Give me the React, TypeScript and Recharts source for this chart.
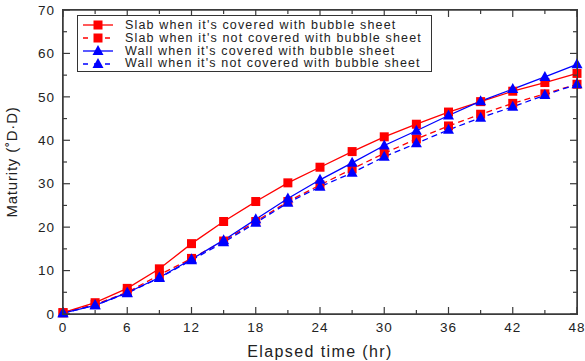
import { LineChart, Line, XAxis, YAxis, Legend } from 'recharts';

const time = [0, 3, 6, 9, 12, 15, 18, 21, 24, 27, 30, 33, 36, 39, 42, 45, 48];
const slabCovered = [0.3, 2.6, 5.9, 10.4, 16.2, 21.3, 25.9, 30.2, 33.8, 37.4, 40.8, 43.7, 46.5, 48.9, 51.3, 53.3, 55.4];
const slabUncovered = [0.3, 2.2, 5.0, 9.0, 12.8, 16.8, 21.3, 25.9, 29.7, 33.4, 37.0, 40.3, 43.3, 46.0, 48.5, 50.7, 52.9];
const wallCovered = [0.2, 2.0, 4.9, 8.4, 12.6, 17.0, 21.8, 26.6, 30.9, 34.8, 38.8, 42.2, 45.7, 49.0, 51.8, 54.6, 57.5];
const wallUncovered = [0.2, 2.0, 4.8, 8.3, 12.4, 16.5, 21.0, 25.6, 29.3, 32.5, 36.2, 39.3, 42.4, 45.2, 47.7, 50.4, 52.9];

const xTicks = [0, 3, 6, 9, 12, 15, 18, 21, 24, 27, 30, 33, 36, 39, 42, 45, 48];
const yTicks = [0, 5, 10, 15, 20, 25, 30, 35, 40, 45, 50, 55, 60, 65, 70];

// last series goes through the top/right axes (same domains) so the frame axes get drawn
const SERIES = [
  { key: 'slabCovered', name: "Slab when it's covered with bubble sheet", color: '#ff0000', dash: undefined, shape: 'square', xId: 0, yId: 0 },
  { key: 'slabUncovered', name: "Slab when it's not covered with bubble sheet", color: '#ff0000', dash: '6 4', shape: 'square', xId: 0, yId: 0 },
  { key: 'wallCovered', name: "Wall when it's covered with bubble sheet", color: '#0000ff', dash: undefined, shape: 'triangle', xId: 0, yId: 0 },
  { key: 'wallUncovered', name: "Wall when it's not covered with bubble sheet", color: '#0000ff', dash: '6 4', shape: 'triangle', xId: 'top', yId: 'r' },
];

const data = time.map((t, i) => ({
  t,
  slabCovered: slabCovered[i],
  slabUncovered: slabUncovered[i],
  wallCovered: wallCovered[i],
  wallUncovered: wallUncovered[i],
}));

const FONT = '"Liberation Sans", Arial, sans-serif';
const AXIS = '#3a3a3a';

const Marker = ({ cx, cy, shape, color }: any) => {
  if (cx == null || cy == null) return null;
  if (shape === 'square') {
    return <rect x={cx - 4.5} y={cy - 4.5} width={9} height={9} fill={color} />;
  }
  return <polygon points={`${cx},${cy - 6} ${cx - 5.5},${cy + 4} ${cx + 5.5},${cy + 4}`} fill={color} />;
};

const BottomTick = ({ x, y, payload }: any) => {
  const major = payload.value % 6 === 0;
  return (
    <g>
      <line x1={x} x2={x} y1={y} y2={y - (major ? 7 : 4)} stroke={AXIS} strokeWidth={1.2} />
      {major && (
        <text x={x} y={y + 18} textAnchor="middle" fontSize={13.5} letterSpacing={1} fill="#222" fontFamily={FONT}>
          {payload.value}
        </text>
      )}
    </g>
  );
};

const TopTick = ({ x, y, payload }: any) => {
  const major = payload.value % 6 === 0;
  return <line x1={x} x2={x} y1={y} y2={y + (major ? 7 : 4)} stroke={AXIS} strokeWidth={1.2} />;
};

const LeftTick = ({ x, y, payload }: any) => {
  const major = payload.value % 10 === 0;
  return (
    <g>
      <line x1={x} x2={x + (major ? 7 : 4)} y1={y} y2={y} stroke={AXIS} strokeWidth={1.2} />
      {major && (
        <text x={x - 8} y={y} dy="0.35em" textAnchor="end" fontSize={13.5} letterSpacing={1} fill="#222" fontFamily={FONT}>
          {payload.value}
        </text>
      )}
    </g>
  );
};

const RightTick = ({ x, y, payload }: any) => {
  const major = payload.value % 10 === 0;
  return <line x1={x} x2={x - (major ? 7 : 4)} y1={y} y2={y} stroke={AXIS} strokeWidth={1.2} />;
};

const renderLegend = () => (
  <div
    style={{
      border: '1.5px solid #333',
      background: '#fff',
      padding: '3px 0 1px 0',
      fontFamily: FONT,
      fontSize: 12.5,
      lineHeight: '12.8px',
      letterSpacing: 1.15,
      color: '#222',
      boxSizing: 'border-box',
    }}
  >
    {SERIES.map((s) => (
      <div key={s.key} style={{ display: 'flex', alignItems: 'center', height: 12.8, whiteSpace: 'nowrap' }}>
        <svg width={36} height={12} style={{ display: 'block', marginLeft: 5, marginRight: 6, overflow: 'visible' }}>
          <line x1={0} x2={30} y1={6} y2={6} stroke={s.color} strokeWidth={1.3} strokeDasharray={s.dash ? '5 6' : undefined} />
          <Marker cx={15} cy={6} shape={s.shape} color={s.color} />
        </svg>
        <span>{s.name}</span>
      </div>
    ))}
  </div>
);

const App = () => {
  return (
    <div style={{ position: 'absolute', left: 0, top: 0, width: 585, height: 361, background: '#fff' }}>
      <LineChart width={585} height={361} data={data} margin={{ top: 0, right: 0, bottom: 0, left: 0 }}>
        <XAxis
          dataKey="t"
          type="number"
          domain={[0, 48]}
          ticks={xTicks}
          interval={0}
          tickSize={0}
          tickMargin={0}
          tickLine={false}
          tick={<BottomTick />}
          axisLine={{ stroke: AXIS, strokeWidth: 1.5 }}
          height={47}
          label={{
            content: ({ viewBox }: any) => (
              <text
                x={viewBox.x + viewBox.width / 2}
                y={viewBox.y + 43}
                textAnchor="middle"
                fontSize={16}
                letterSpacing={1.4}
                fill="#222"
                fontFamily={FONT}
              >
                Elapsed time (hr)
              </text>
            ),
          }}
        />
        <XAxis
          xAxisId="top"
          orientation="top"
          dataKey="t"
          type="number"
          domain={[0, 48]}
          ticks={xTicks}
          interval={0}
          tickSize={0}
          tickMargin={0}
          tickLine={false}
          tick={<TopTick />}
          axisLine={{ stroke: AXIS, strokeWidth: 1.5 }}
          height={10}
        />
        <YAxis
          type="number"
          domain={[0, 70]}
          ticks={yTicks}
          interval={0}
          tickSize={0}
          tickMargin={0}
          tickLine={false}
          tick={<LeftTick />}
          axisLine={{ stroke: AXIS, strokeWidth: 1.5 }}
          width={63}
          label={{
            content: ({ viewBox }: any) => {
              const cx = viewBox.x + 17;
              const cy = viewBox.y + viewBox.height / 2;
              return (
                <text
                  x={cx}
                  y={cy}
                  transform={`rotate(-90 ${cx} ${cy})`}
                  textAnchor="middle"
                  fontSize={15}
                  letterSpacing={0.8}
                  fill="#222"
                  fontFamily={FONT}
                >
                  Maturity (˚D·D)
                </text>
              );
            },
          }}
        />
        <YAxis
          yAxisId="r"
          orientation="right"
          type="number"
          domain={[0, 70]}
          ticks={yTicks}
          interval={0}
          tickSize={0}
          tickMargin={0}
          tickLine={false}
          tick={<RightTick />}
          axisLine={{ stroke: AXIS, strokeWidth: 1.5 }}
          width={8}
        />
        <Legend
          content={renderLegend}
          layout="horizontal"
          verticalAlign="middle"
          align="center"
          wrapperStyle={{ left: 77, top: 15, width: 355, height: 'auto' }}
        />
        {SERIES.map((s) => (
          <Line
            key={s.key}
            xAxisId={s.xId}
            yAxisId={s.yId}
            dataKey={s.key}
            name={s.name}
            stroke={s.color}
            strokeWidth={1.3}
            strokeDasharray={s.dash}
            isAnimationActive={false}
            dot={(p: any) => <Marker key={`${s.key}-${p.index}`} cx={p.cx} cy={p.cy} shape={s.shape} color={s.color} />}
            activeDot={false}
          />
        ))}
      </LineChart>
      {/* plot frame */}
      <div
        style={{
          position: 'absolute',
          left: 62.25,
          top: 9.25,
          width: 515.5,
          height: 305.5,
          border: `1.5px solid ${AXIS}`,
          boxSizing: 'border-box',
          pointerEvents: 'none',
        }}
      />
    </div>
  );
};

export default App;
